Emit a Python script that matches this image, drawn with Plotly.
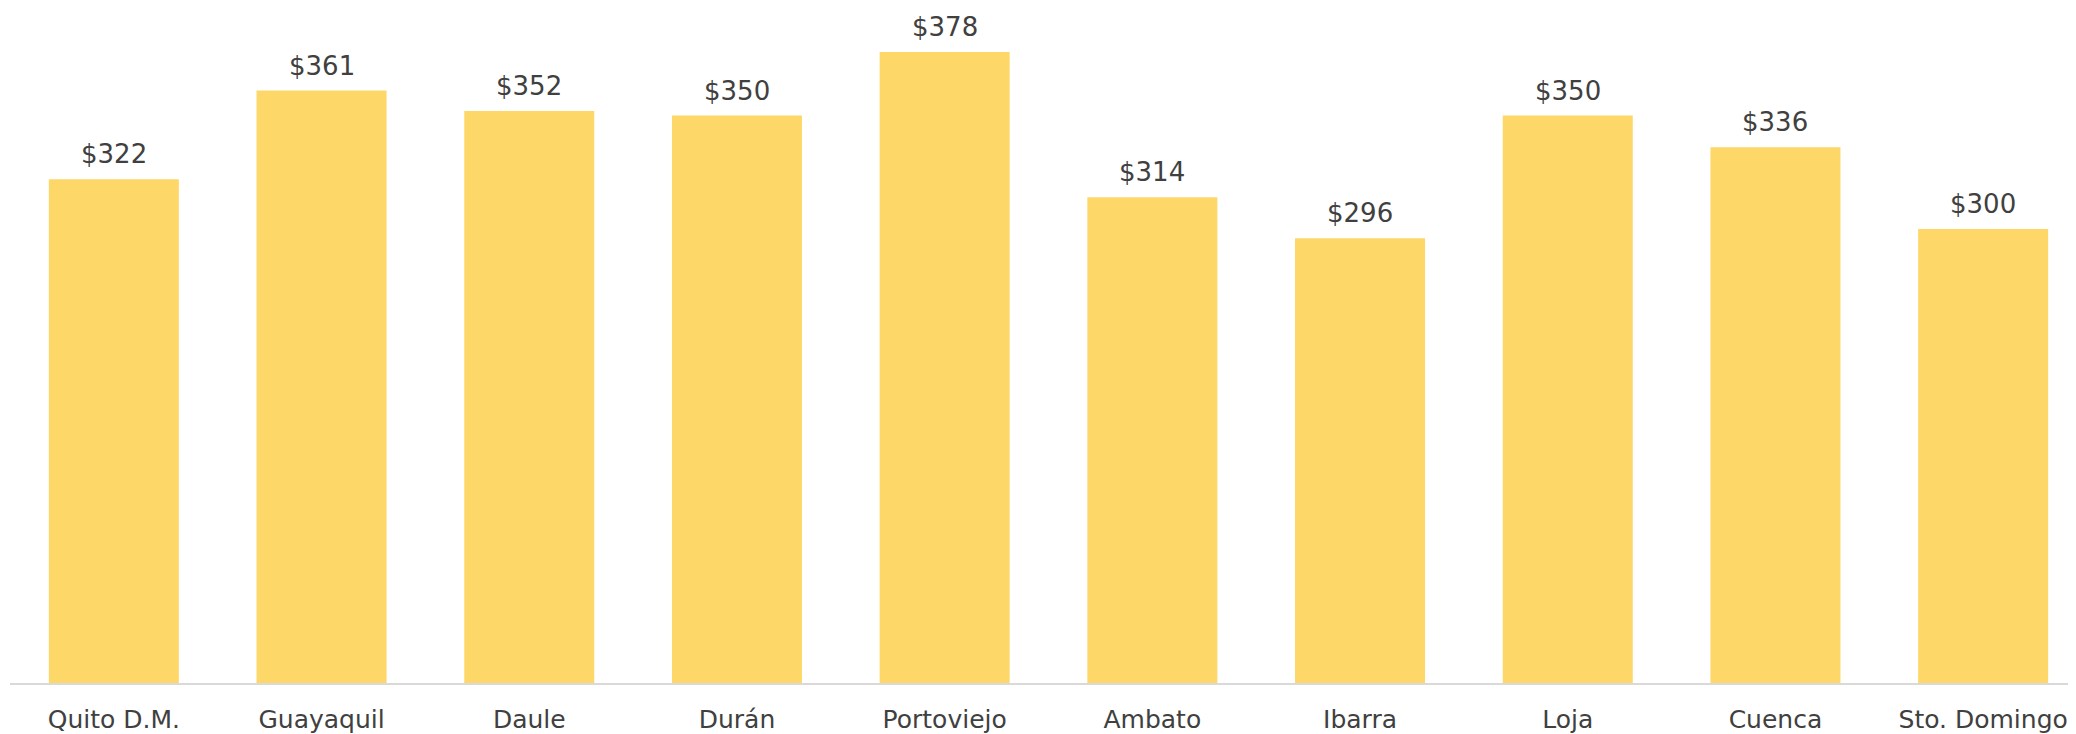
import plotly.graph_objects as go

categories = ["Quito D.M.", "Guayaquil", "Daule", "Durán", "Portoviejo",
              "Ambato", "Ibarra", "Loja", "Cuenca", "Sto. Domingo"]
values = [322, 361, 352, 350, 378, 314, 296, 350, 336, 300]
labels = ["$322", "$361", "$352", "$350", "$378", "$314", "$296", "$350", "$336", "$300"]

BAR = "#FDD868"
TXT = "#404040"
FONT = "DejaVu Sans"

fig = go.Figure()
fig.add_trace(go.Bar(x=categories, y=values, marker=dict(color=BAR, line=dict(width=0)),
                     hoverinfo="skip"))

for c, v, t in zip(categories, values, labels):
    fig.add_annotation(x=c, y=v, text=t, showarrow=False, yanchor="bottom", yshift=8,
                       font=dict(family=FONT, size=26, color=TXT))

fig.update_layout(
    width=2068, height=726,
    margin=dict(l=2, r=0, t=0, b=51),
    plot_bgcolor="white", paper_bgcolor="white",
    bargap=0.374,
    showlegend=False,
    xaxis=dict(range=[-0.5, 9.447], showgrid=False, showline=True, linecolor="#D9D9D9",
               linewidth=2, ticks="", tickfont=dict(family=FONT, size=25, color=TXT),
               ticklabelstandoff=13),
    yaxis=dict(range=[100, 397.4], visible=False, showgrid=False),
)

fig.write_html("out.html")
